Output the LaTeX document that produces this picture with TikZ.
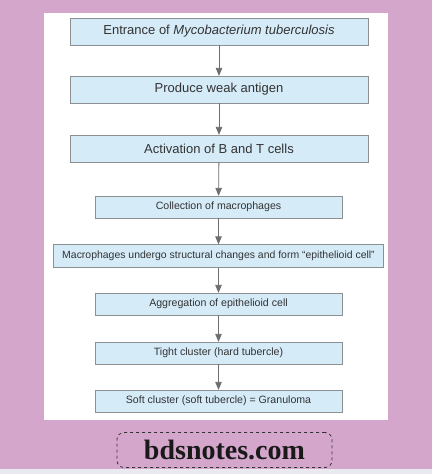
\documentclass[tikz,border=0pt]{standalone}
\usepackage{fontspec}
\setmainfont{Liberation Sans}
\newfontfamily\sitefont{Liberation Serif}
\usepackage{xcolor}
\usetikzlibrary{arrows,positioning}
\definecolor{bgpurple}{HTML}{D4A6CB}
\definecolor{boxblue}{HTML}{D5EBF8}
\definecolor{boxline}{HTML}{8C9093}
\definecolor{arrowgray}{HTML}{6E6E6E}
\definecolor{txtgray}{HTML}{333333}
\definecolor{stripgray}{HTML}{E9EAEF}

\begin{document}
\begin{tikzpicture}[x=1pt, y=1pt,
    bigstep/.style={draw=boxline, fill=boxblue, inner sep=0pt, minimum width=298pt, minimum height=27pt, text=txtgray, font=\fontsize{13}{15}\selectfont},
    smallstep/.style={draw=boxline, fill=boxblue, inner sep=0pt, minimum width=247pt, minimum height=22pt, text=txtgray, font=\fontsize{10.6}{12}\selectfont},
    flow/.style={->, >=triangle 45, draw=arrowgray, line width=0.8pt}]
    \useasboundingbox (0,0) rectangle (432,474);
    \fill[bgpurple] (0,0) rectangle (432,474);
    \fill[stripgray] (0,0) rectangle (432,4.5);
    \fill[white] (44,54) rectangle (388,461);
    \node[bigstep] (entry) at (219, 442.5) {Entrance of \textit{Mycobacterium tuberculosis}};
    \node[bigstep] (antigen) at (219, 384.5) {Produce weak antigen};
    \node[bigstep] (bt) at (219, 325.5) {Activation of B and T cells};
    \node[smallstep] (collect) at (218.5, 267) {Collection of macrophages};
    \node[smallstep, minimum width=330pt, minimum height=23pt, font=\fontsize{10.45}{12}\selectfont] (epi) at (218.5, 218) {Macrophages undergo structural changes and form ``epithelioid cell''};
    \node[smallstep] (aggr) at (218.5, 170) {Aggregation of epithelioid cell};
    \node[smallstep] (hard) at (218.5, 121) {Tight cluster (hard tubercle)};
    \node[smallstep] (soft) at (218.5, 73) {Soft cluster (soft tubercle) = Granuloma};
    \draw [flow] (entry) -- (antigen);
    \draw [flow] (antigen) -- (bt);
    \draw [flow] (bt) -- (collect);
    \draw [flow] (collect) -- (epi);
    \draw [flow] (epi) -- (aggr);
    \draw [flow] (aggr) -- (hard);
    \draw [flow] (hard) -- (soft);
    \node[draw=black!80, dashed, line width=0.8pt, rounded corners=7pt, minimum width=215pt, minimum height=35pt, inner sep=0pt, text=black!90, font=\sitefont\bfseries\fontsize{28}{30}\selectfont] (site) at (224.5, 24) {bdsnotes.com};
\end{tikzpicture}
\end{document}
